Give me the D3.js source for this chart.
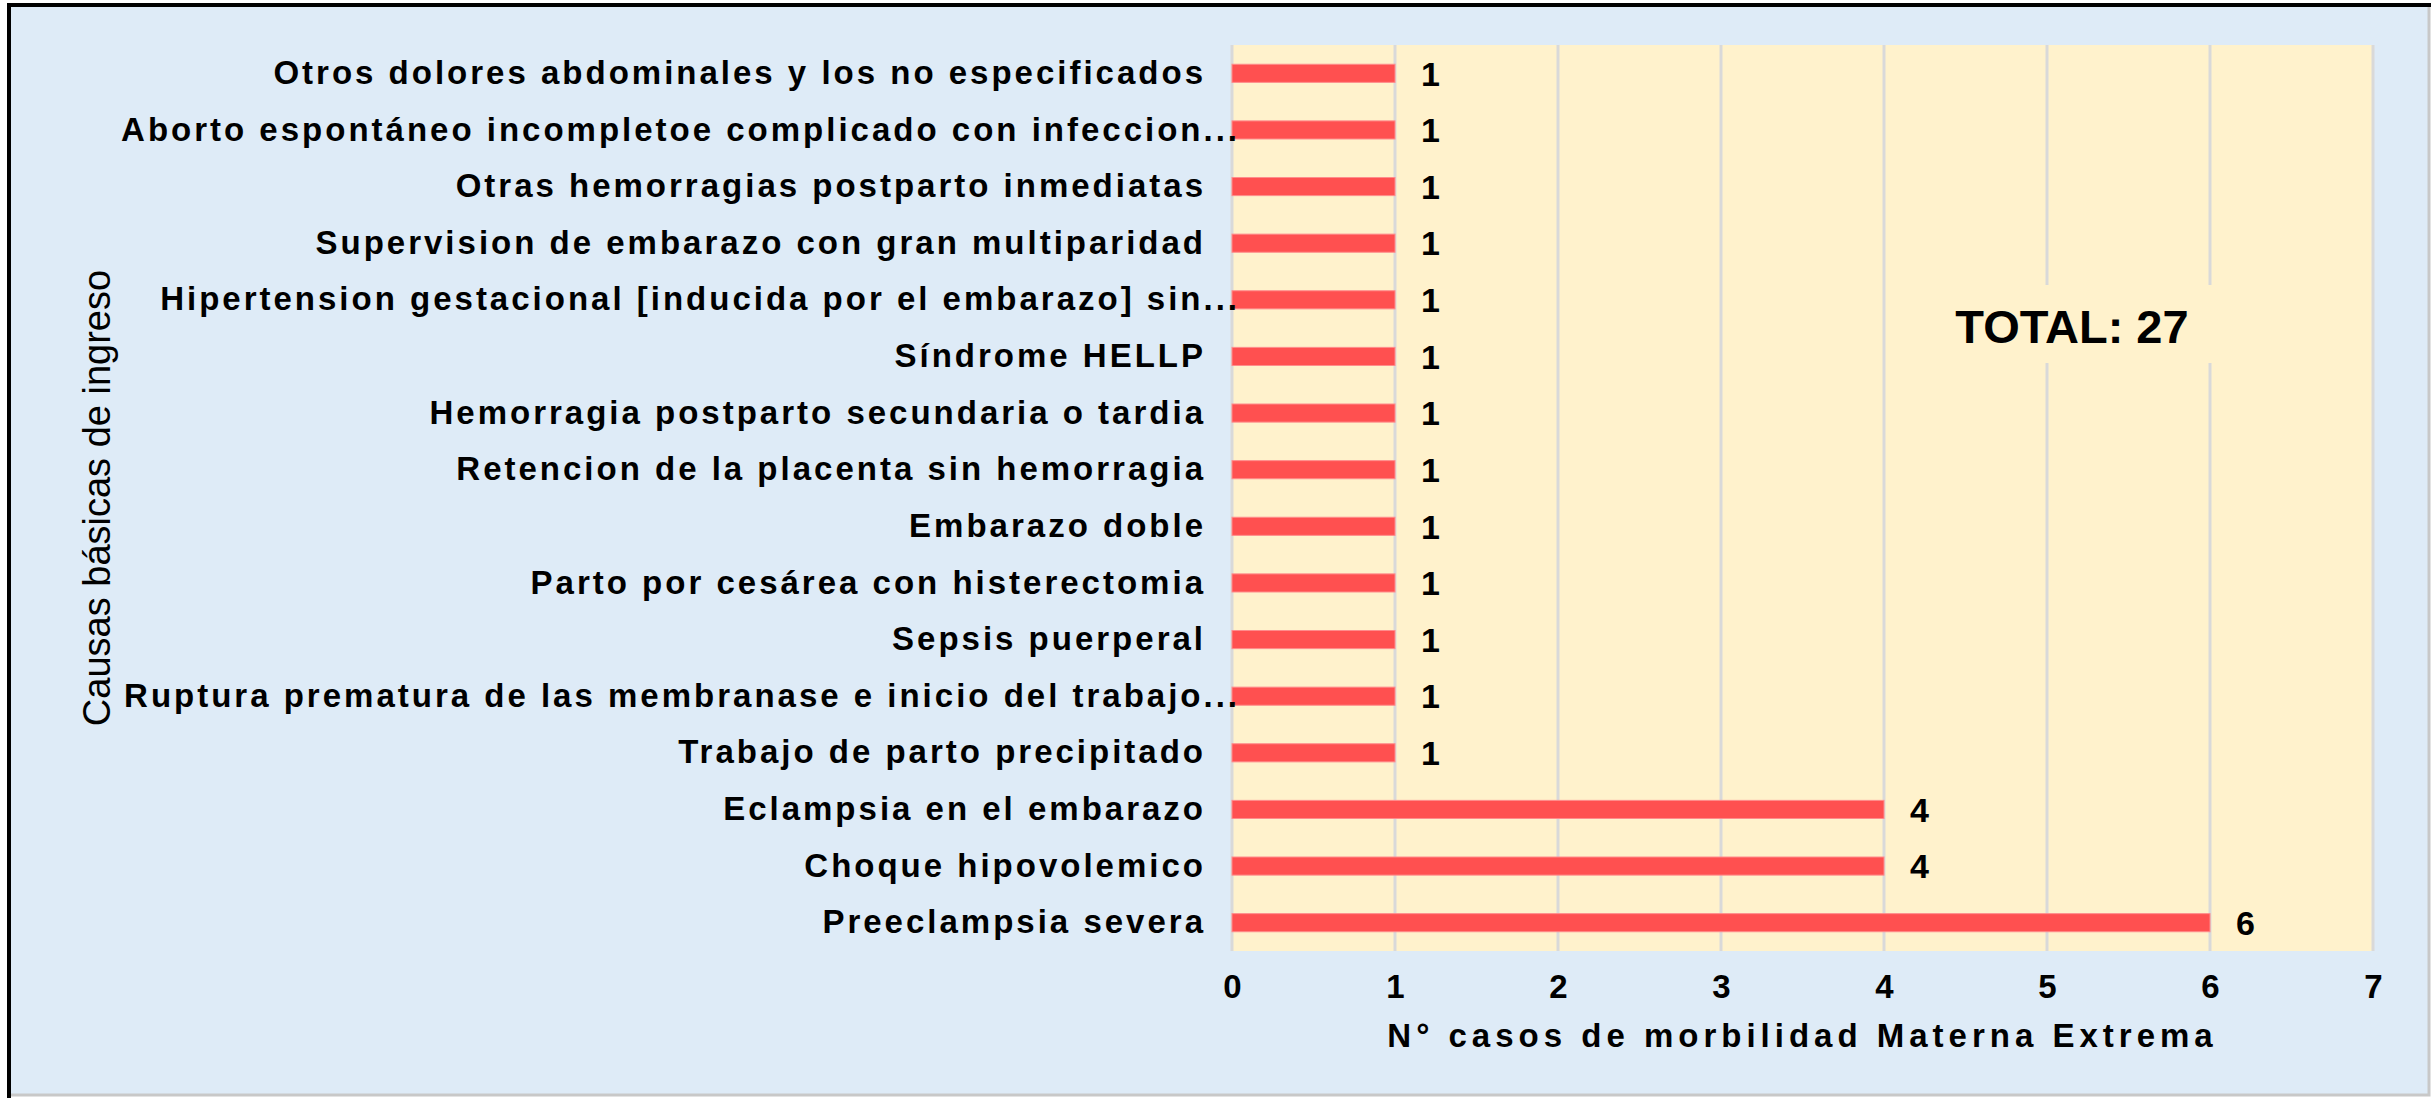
<!DOCTYPE html>
<html>
<head>
<meta charset="utf-8">
<script src="https://cdn.jsdelivr.net/npm/d3@7"></script>
<style>
  body { margin: 0; background: #ffffff; }
  text { font-family: "Liberation Sans", Arial, sans-serif; }
</style>
</head>
<body>
<svg id="chart" width="2435" height="1098"></svg>
<script>
var causas = [
    "Otros dolores abdominales y los no especificados",
    "Aborto espontáneo incompletoe complicado con infeccion...",
    "Otras hemorragias postparto inmediatas",
    "Supervision de embarazo con gran multiparidad",
    "Hipertension gestacional [inducida por el embarazo] sin...",
    "Síndrome HELLP",
    "Hemorragia postparto secundaria o tardia",
    "Retencion de la placenta sin hemorragia",
    "Embarazo doble",
    "Parto por cesárea con histerectomia",
    "Sepsis puerperal",
    "Ruptura prematura de las membranase e inicio del trabajo...",
    "Trabajo de parto precipitado",
    "Eclampsia en el embarazo",
    "Choque hipovolemico",
    "Preeclampsia severa"
];
var casos = [1, 1, 1, 1, 1, 1, 1, 1, 1, 1, 1, 1, 1, 4, 4, 6];
var xTicks = [0, 1, 2, 3, 4, 5, 6, 7];
var totalLabel = "TOTAL: " + d3.sum(casos);

var svg = d3.select("#chart");

// fondo y marco
svg.append("rect")
    .attr("x", 9).attr("y", 5)
    .attr("width", 2420).attr("height", 1090)
    .attr("fill", "#deebf7")
    .attr("stroke", "#c8c8c8")
    .attr("stroke-width", 3);
svg.append("path")
    .attr("d", "M9,1098 L9,5 L2431,5")
    .attr("fill", "none")
    .attr("stroke", "#000")
    .attr("stroke-width", 4);

var plot = { left: 1232, right: 2373, top: 45, bottom: 951 };

var x = d3.scaleLinear().domain([0, 7]).range([plot.left, plot.right]);
var y = d3.scaleBand().domain(causas).range([plot.top, plot.bottom])
    .paddingInner(0.68).paddingOuter(0.34);

svg.append("rect")
    .attr("x", plot.left).attr("y", plot.top)
    .attr("width", plot.right - plot.left).attr("height", plot.bottom - plot.top)
    .attr("fill", "#fff2cc");

svg.append("g").selectAll("line")
    .data(xTicks)
    .enter().append("line")
    .attr("x1", d => x(d)).attr("x2", d => x(d))
    .attr("y1", plot.top).attr("y2", plot.bottom)
    .attr("stroke", "#d9d9d9")
    .attr("stroke-width", 3);

// caja del total
svg.append("rect")
    .attr("x", 1897).attr("y", 285)
    .attr("width", 340).attr("height", 78)
    .attr("fill", "#fff2cc");
svg.append("text")
    .attr("x", 2072).attr("y", 343)
    .attr("text-anchor", "middle")
    .attr("font-size", 47)
    .attr("font-weight", "bold")
    .text(totalLabel);

svg.append("g").selectAll("rect")
    .data(casos)
    .enter().append("rect")
    .attr("x", x(0))
    .attr("y", (d, i) => y(causas[i]))
    .attr("width", d => x(d) - x(0))
    .attr("height", y.bandwidth())
    .attr("fill", "#ff5050")
    .attr("stroke", "#ff8c8c")
    .attr("stroke-width", 1);

svg.append("g").selectAll("text")
    .data(casos)
    .enter().append("text")
    .attr("x", d => x(d) + 26)
    .attr("y", (d, i) => y(causas[i]) + y.bandwidth() / 2)
    .attr("dy", "0.36em")
    .attr("font-size", 34)
    .attr("font-weight", "bold")
    .text(d => d);

var xAxis = svg.append("g")
    .attr("transform", "translate(0," + plot.bottom + ")")
    .call(d3.axisBottom(x).tickValues(xTicks).tickSize(0).tickPadding(24).tickFormat(d3.format("d")));
xAxis.select(".domain").remove();
xAxis.selectAll("text")
    .attr("font-size", 33)
    .attr("font-weight", "bold")
    .attr("fill", "#000");

var yAxis = svg.append("g")
    .attr("transform", "translate(" + plot.left + ",0)")
    .call(d3.axisLeft(y).tickSize(0).tickPadding(29));
yAxis.select(".domain").remove();
yAxis.selectAll("text")
    .attr("font-size", 33)
    .attr("font-weight", "bold")
    .attr("letter-spacing", "3px")
    .attr("fill", "#000")
    // las etiquetas recortadas llegan hasta el borde del área
    .attr("dx", d => d.endsWith("...") ? 37 : 3);

svg.append("text")
    .attr("x", (plot.left + plot.right) / 2)
    .attr("y", 1047)
    .attr("text-anchor", "middle")
    .attr("font-size", 33)
    .attr("font-weight", "bold")
    .attr("letter-spacing", "5px")
    .text("N°  casos de morbilidad Materna Extrema");

svg.append("text")
    .attr("transform", "translate(110," + ((plot.top + plot.bottom) / 2) + ") rotate(-90)")
    .attr("text-anchor", "middle")
    .attr("font-size", 38)
    .text("Causas básicas de ingreso");
</script>
</body>
</html>
